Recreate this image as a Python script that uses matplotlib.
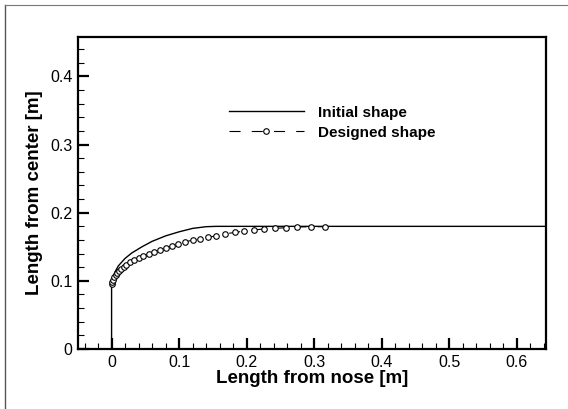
import matplotlib
matplotlib.use("Agg")
from matplotlib import pyplot as plt
from matplotlib.lines import Line2D
from matplotlib.ticker import MultipleLocator
import numpy as np

plt.rcParams['font.family'] = ['Liberation Sans', 'DejaVu Sans']

# initial shape (nose + cylinder)
init_x = [0.0, 0.0, 0.002, 0.005, 0.010, 0.020, 0.030, 0.045, 0.060, 0.080,
          0.100, 0.120, 0.140, 0.155, 0.643]
init_y = [0.0, 0.095, 0.105, 0.113, 0.122, 0.133, 0.141, 0.150, 0.158, 0.166,
          0.172, 0.177, 0.1795, 0.180, 0.180]

# designed shape (optimised nose)
des_x = [0.000, 0.001, 0.002, 0.004, 0.006, 0.008, 0.011, 0.014, 0.018, 0.022,
         0.027, 0.033, 0.040, 0.047, 0.055, 0.063, 0.071, 0.080, 0.089, 0.099,
         0.109, 0.120, 0.131, 0.143, 0.155, 0.168, 0.182, 0.196, 0.211, 0.226,
         0.242, 0.258, 0.275, 0.295, 0.316]
des_y = [0.095, 0.099, 0.102, 0.106, 0.109, 0.112, 0.115, 0.118, 0.121, 0.124,
         0.127, 0.130, 0.133, 0.136, 0.139, 0.142, 0.145, 0.148, 0.151, 0.154,
         0.157, 0.160, 0.162, 0.164, 0.166, 0.169, 0.171, 0.173, 0.175, 0.176,
         0.177, 0.178, 0.179, 0.1795, 0.1795]

labels = ["Initial shape", "Designed shape"]

fig = plt.figure(figsize=(5.68, 4.09), dpi=100)
ax = fig.add_axes([0.137, 0.1467, 0.824, 0.763])

dash = (0, (10, 10))
ax.plot(init_x, init_y, color='black', lw=1.0)
ax.plot(des_x, des_y, color='black', lw=0.8, ls=dash,
        marker='o', ms=4, mfc='white', mec='black', mew=0.8)

ax.set_xlim(-0.05, 0.643)
ax.set_ylim(0, 0.458)
ax.xaxis.set_minor_locator(MultipleLocator(0.02))
ax.yaxis.set_minor_locator(MultipleLocator(0.02))
ax.set_xticks(np.arange(0, 0.61, 0.1))
ax.set_xticklabels(['0', '0.1', '0.2', '0.3', '0.4', '0.5', '0.6'])
ax.set_yticks(np.arange(0, 0.41, 0.1))
ax.set_yticklabels(['0', '0.1', '0.2', '0.3', '0.4'])
ax.tick_params(which='major', direction='in', length=8, width=1.6, labelsize=11.5, pad=4)
ax.tick_params(which='minor', direction='in', length=4, width=0.8)
for s in ax.spines.values():
    s.set_linewidth(1.6)

ax.set_xlabel("Length from nose [m]", fontsize=13.5, fontweight='bold', labelpad=0)
ax.set_ylabel("Length from center [m]", fontsize=13.5, fontweight='bold', labelpad=5)

handles = [
    Line2D([], [], color='black', lw=1.0),
    Line2D([], [], color='black', lw=0.8, ls=dash, marker='o', ms=4,
           mfc='white', mec='black', mew=0.8),
]
ax.legend(handles, labels, loc='upper left', bbox_to_anchor=(0.323, 0.78),
          frameon=False, borderpad=0, borderaxespad=0, handlelength=4.9,
          handletextpad=0.9, labelspacing=0.4, numpoints=1,
          prop={'size': 11, 'weight': 'bold'})

# outer frame of the original figure
fig.add_artist(Line2D([5 / 568, 5 / 568], [0, 1 - 5 / 409], color='#555555', lw=1.0))
fig.add_artist(Line2D([5 / 568, 1], [1 - 5 / 409, 1 - 5 / 409], color='#777777', lw=0.8))

fig.savefig("out.png", dpi=100)
